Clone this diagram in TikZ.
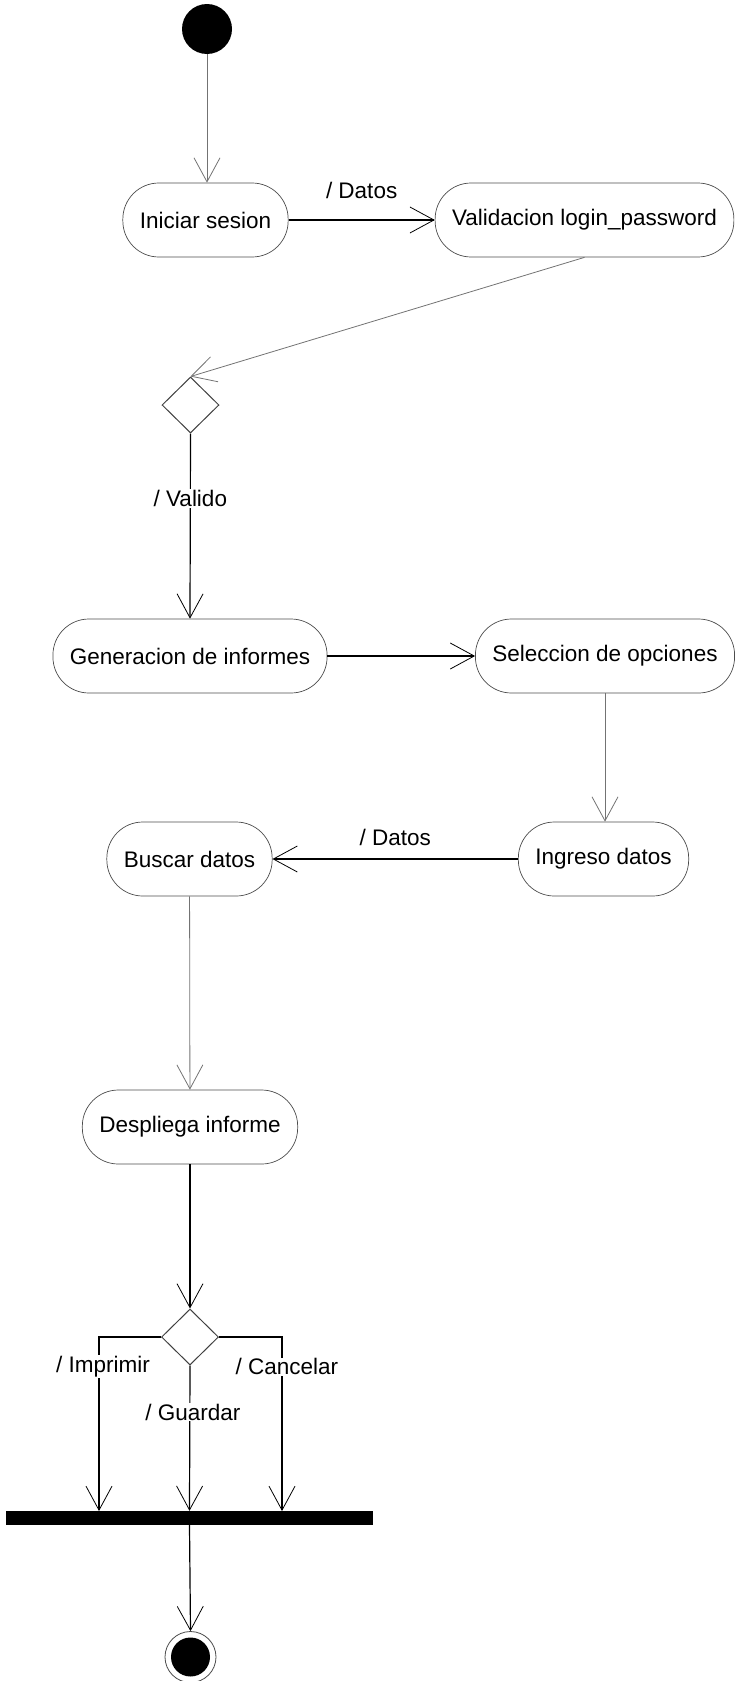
\documentclass[tikz,border=0pt]{standalone}
\usepackage{fontspec}
\setmainfont{Liberation Sans}
\usetikzlibrary{arrows.meta,shapes.geometric}

\tikzset{
  activity/.style={draw=black!70, line width=0.7pt, rectangle, rounded corners=36pt,
    minimum height=74pt, inner xsep=17pt, font=\fontsize{22.5}{27}\selectfont},
  decision/.style={draw=black!75, line width=1pt, diamond, minimum width=57pt,
    minimum height=56pt, inner sep=0pt},
  final/.style={circle, draw=black!70, line width=0.8pt, minimum size=51pt, inner sep=0pt,
    path picture={\fill[black] (path picture bounding box.center) circle (19.5pt);}},
  flow/.style={line width=1.2pt, -{Straight Barb[length=24pt,width=26pt,line width=0.8pt]}},
  thinflow/.style={flow, black!55, line width=0.8pt},
  guard/.style={font=\fontsize{22.5}{27}\selectfont, inner sep=1pt},
}

\begin{document}
\begin{tikzpicture}[x=1pt,y=-1pt]
	\useasboundingbox (0,0) rectangle (735,1681);
	% states
	\node[circle, fill=black, minimum size=50pt, inner sep=0pt] (inicio) at (207,29) {};
	\node[activity] (iniciar) at (205.5,220) {Iniciar sesion};
	\node[activity] (validar) at (584.5,220) {Validacion login\_password};
	\node[decision] (d1) at (190.5,405) {};
	\node[activity] (generar) at (190,656) {Generacion de informes};
	\node[activity] (seleccion) at (605,656) {Seleccion de opciones};
	\node[activity] (ingreso) at (603.5,859) {Ingreso datos};
	\node[activity] (buscar) at (189.5,859) {Buscar datos};
	\node[activity] (despliega) at (190,1127) {Despliega informe};
	\node[decision] (d2) at (190,1337) {};
	\node[fill=black, minimum width=367pt, minimum height=14pt, inner sep=0pt] (barra) at (189.5,1518) {};
	\node[final] (fin) at (190.5,1657) {};
	\coordinate (jimp) at (99,1511);
	\coordinate (jcan) at (282,1511);
	% transitions
	\draw[thinflow] (inicio.south) -- (inicio.south |- iniciar.north);
	\draw[flow] (iniciar) -- node[guard, above=20pt] {/ Datos} (validar);
	\draw[thinflow] (validar.south) -- (d1.north);
	\draw[flow] (d1.south) -- node[guard, fill=white, pos=0.35] {/ Valido} (generar.north);
	\draw[flow] (generar) -- (seleccion);
	\draw[thinflow] (seleccion.south) -- (seleccion.south |- ingreso.north);
	\draw[flow] (ingreso) -- node[guard, above=12pt] {/ Datos} (buscar);
	\draw[thinflow] (buscar) -- (despliega);
	\draw[flow] (despliega) -- (d2);
	\draw[flow] (d2.west) -| node[guard, fill=white, pos=0.586, xshift=4pt] {/ Imprimir} (jimp);
	\draw[flow] (d2.south) -- node[guard, fill=white, pos=0.32, xshift=3pt] {/ Guardar} (barra.north);
	\draw[flow] (d2.east) -| node[guard, fill=white, pos=0.586, xshift=5pt] {/ Cancelar} (jcan);
	\draw[flow] (barra.south) -- (fin.north);
\end{tikzpicture}
\end{document}
